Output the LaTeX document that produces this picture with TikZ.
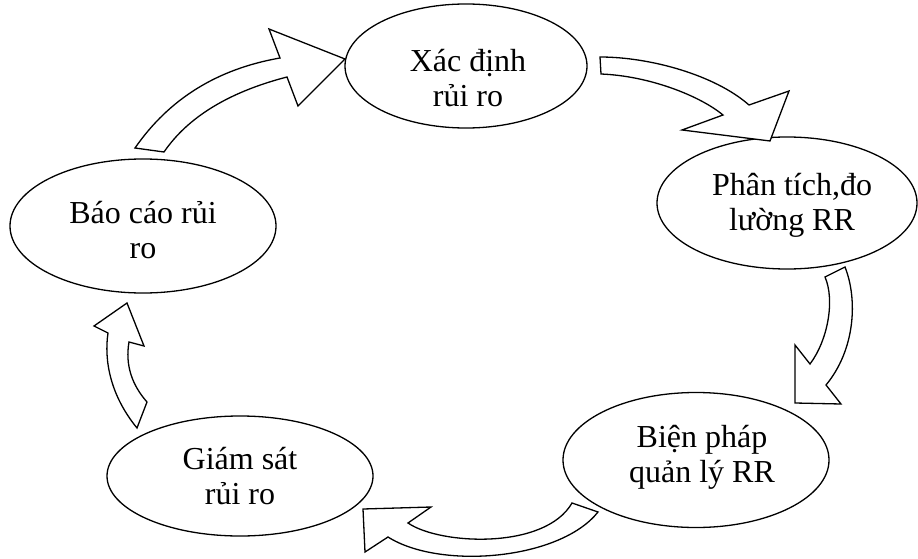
\documentclass[tikz,border=0pt]{standalone}
\usepackage{fontspec}
\setmainfont{Liberation Serif}
\usetikzlibrary{shapes.geometric}
\begin{document}
\begin{tikzpicture}[x=1pt,y=-1pt,
  stage/.style={draw, ellipse, line width=1.3pt, inner sep=0pt, fill=white},
  lbl/.style={align=center, font=\fontsize{32}{35}\selectfont, inner sep=0pt},
  blockarrow/.style={draw, fill=white, line width=1.3pt, line join=miter}]
\useasboundingbox (0,0) rectangle (918,559);
% stages
\node[stage, minimum width=242pt, minimum height=124pt] (e1) at (466,66) {};
\node[stage, minimum width=260pt, minimum height=132pt] (e2) at (787,203) {};
\node[stage, minimum width=266pt, minimum height=135pt] (e3) at (696,460) {};
\node[stage, minimum width=266pt, minimum height=120pt] (e4) at (240,476) {};
\node[stage, minimum width=266pt, minimum height=134pt] (e5) at (143,226) {};
% labels
\node[lbl] (t1) at ([shift={(2,12.5)}]e1.center) {Xác định\\rủi ro};
\node[lbl] (t2) at ([shift={(5,2)}]e2.center) {Phân tích,đo\\lường RR};
\node[lbl] (t3) at ([shift={(6,-2.5)}]e3.center) {Biện pháp\\quản lý RR};
\node[lbl] (t4) at ([shift={(0,0.5)}]e4.center) {Giám sát\\rủi ro};
\node[lbl] (t5) at ([shift={(0,4.5)}]e5.center) {Báo cáo rủi\\ro};
% curved block arrows
% e5 -> e1
\draw[blockarrow] (135,148) .. controls (169,99) and (217,69) .. (280,58) -- (269,29) -- (345,59) -- (298,106) -- (287,77) .. controls (229,92) and (188,117) .. (164,152) -- cycle;
% e1 -> e2
\draw[blockarrow] (600,57) .. controls (650,57) and (715,75) .. (749,105) -- (789,91) -- (770,141) -- (682,130) -- (723,115) .. controls (700,96) and (650,76) .. (601,74) -- cycle;
% e2 -> e3
\draw[blockarrow] (845,267) .. controls (858,300) and (855,350) .. (826,385) -- (841,404) -- (795,403) -- (795,345) -- (810,364) .. controls (828,340) and (835,300) .. (825,277) -- cycle;
% e3 -> e4
\draw[blockarrow] (598,512) .. controls (560,560) and (440,570) .. (388,537) -- (365,552) -- (363,509) -- (431,507) -- (408,523) .. controls (440,545) and (545,550) .. (572,503) -- cycle;
% e4 -> e5
\draw[blockarrow] (137,428) .. controls (110,395) and (104,360) .. (108,333) -- (94,326) -- (127,303) -- (144,346) -- (129,342) .. controls (125,365) and (132,385) .. (147,402) -- cycle;
\end{tikzpicture}
\end{document}
